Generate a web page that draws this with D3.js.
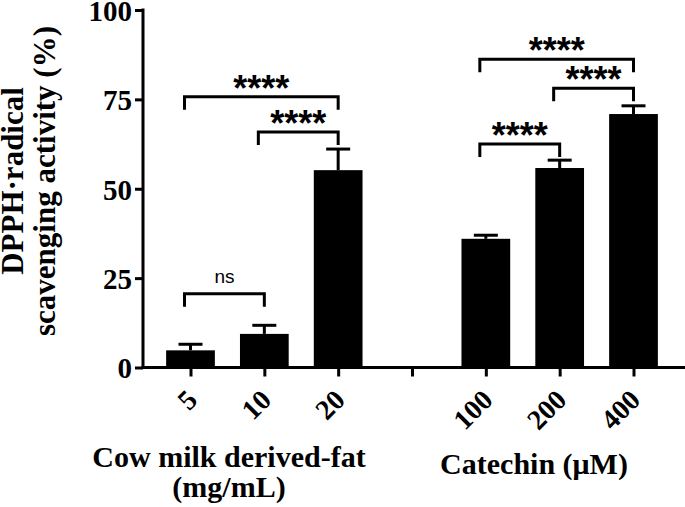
<!DOCTYPE html>
<html>
<head>
<meta charset="utf-8">
<script src="https://cdn.jsdelivr.net/npm/d3@7"></script>
<style>
  html, body { margin: 0; padding: 0; background: #fff; }
  svg { display: block; }
</style>
</head>
<body>
<svg id="chart" width="685" height="507"></svg>
<script>
// ---------- data ----------
const categories = ["5", "10", "20", "gap", "100", "200", "400"];
const tickLabels = ["5", "10", "20", "", "100", "200", "400"];

const cowDoses = ["5", "10", "20"];
const cowMeans = [4.8, 9.4, 55.2];
const cowErrors = [1.7, 2.4, 5.9];

const catechinDoses = ["100", "200", "400"];
const catechinMeans = [36.0, 55.8, 70.9];
const catechinErrors = [1.0, 2.2, 2.3];

const yTicks = [0, 25, 50, 75, 100];

const compFrom = ["5", "10", "5", "100", "200", "100"];
const compTo = ["10", "20", "20", "200", "400", "400"];
const compLevel = [20.6, 65.9, 75.7, 62.5, 78.1, 86.2];
const compLabel = ["ns", "****", "****", "****", "****", "****"];

const yTitleLines = ["DPPH\u00B7radical", "scavenging activity (%)"];
const groupTitles = [["Cow milk derived-fat", "(mg/mL)"], ["Catechin (\u03BCM)"]];

// ---------- layout ----------
const svg = d3.select("#chart");
const serif = "'Liberation Serif', 'Times New Roman', serif";
const sans = "'Liberation Sans', Arial, sans-serif";

const x = d3.scalePoint().domain(categories).range([190.5, 633.5]);
const y = d3.scaleLinear().domain([0, 100]).range([367.5, 10]);
const barW = x.step() * 0.66;

const bars = cowDoses.map((d, i) => ({ cat: d, mean: cowMeans[i], err: cowErrors[i] }))
  .concat(catechinDoses.map((d, i) => ({ cat: d, mean: catechinMeans[i], err: catechinErrors[i] })));

// bars
svg.append("g").selectAll("rect").data(bars).join("rect")
  .attr("x", d => x(d.cat) - barW / 2)
  .attr("width", barW)
  .attr("y", d => y(d.mean))
  .attr("height", d => y(0) - y(d.mean))
  .attr("fill", "#000");

// error bars
const eb = svg.append("g").attr("stroke", "#000").attr("stroke-width", 3);
eb.selectAll("line.v").data(bars).join("line").attr("class", "v")
  .attr("x1", d => x(d.cat)).attr("x2", d => x(d.cat))
  .attr("y1", d => y(d.mean)).attr("y2", d => y(d.mean + d.err));
eb.selectAll("line.c").data(bars).join("line").attr("class", "c")
  .attr("x1", d => x(d.cat) - 12).attr("x2", d => x(d.cat) + 12)
  .attr("y1", d => y(d.mean + d.err)).attr("y2", d => y(d.mean + d.err));

// y axis
const yAxis = svg.append("g")
  .attr("transform", `translate(${143},0)`)
  .call(d3.axisLeft(y).tickValues(yTicks).tickSize(8).tickSizeOuter(0).tickPadding(3));
yAxis.select(".domain").attr("stroke-width", 3).attr("d", `M0,${y(0) + 1.5}V${y(100) - 1.5}`);
yAxis.selectAll(".tick line").attr("stroke-width", 3);
yAxis.selectAll(".tick text")
  .attr("font-family", serif).attr("font-weight", "bold").attr("font-size", 29)
  .attr("dy", "0.36em").attr("fill", "#000");

// x axis
svg.append("line")
  .attr("x1", 141.5).attr("x2", 685).attr("y1", y(0)).attr("y2", y(0))
  .attr("stroke", "#000").attr("stroke-width", 3);
const xAxis = svg.append("g")
  .attr("transform", `translate(0,${y(0)})`)
  .call(d3.axisBottom(x).tickSize(9).tickSizeOuter(0).tickFormat((d, i) => tickLabels[i]));
xAxis.select(".domain").remove();
xAxis.selectAll(".tick line").attr("stroke-width", 3);
xAxis.selectAll(".tick text")
  .attr("font-family", serif).attr("font-weight", "bold").attr("font-size", 28)
  .attr("fill", "#000")
  .attr("text-anchor", "end")
  .attr("x", 0).attr("y", 0).attr("dy", 0)
  .attr("transform", "translate(8,34) rotate(-45)");

// significance brackets
const comps = compFrom.map((f, i) => ({ from: f, to: compTo[i], level: compLevel[i], label: compLabel[i] }));
const br = svg.append("g");
br.selectAll("path").data(comps).join("path")
  .attr("d", d => {
    const x1 = x(d.from) - 6, x2 = x(d.to), yy = y(d.level);
    return `M${x1},${yy + 13}V${yy}H${x2}V${yy + 13}`;
  })
  .attr("fill", "none").attr("stroke", "#000").attr("stroke-width", 3)
  .attr("stroke-linejoin", "miter");
br.selectAll("text").data(comps).join("text")
  .attr("x", d => (x(d.from) - 6 + x(d.to)) / 2)
  .attr("y", d => d.label === "ns" ? y(d.level) - 10.5 : y(d.level) + 4)
  .attr("text-anchor", "middle")
  .attr("font-family", sans)
  .attr("font-weight", d => d.label === "ns" ? "normal" : "bold")
  .attr("font-size", d => d.label === "ns" ? 19 : 36)
  .attr("fill", "#000")
  .text(d => d.label);

// y title
const yt = svg.append("text")
  .attr("transform", "translate(22.5,181) rotate(-90)")
  .attr("text-anchor", "middle")
  .attr("font-family", serif).attr("font-weight", "bold").attr("font-size", 31)
  .attr("fill", "#000");
yt.selectAll("tspan").data(yTitleLines).join("tspan")
  .attr("x", 0).attr("dy", (d, i) => i === 0 ? 0 : 32.5)
  .text(d => d);

// group titles
const groupCenters = [229, 534];
const groupBaselines = [466.5, 474];
groupTitles.forEach((lines, g) => {
  const t = svg.append("text")
    .attr("text-anchor", "middle")
    .attr("font-family", serif).attr("font-weight", "bold").attr("font-size", 30)
    .attr("fill", "#000");
  t.selectAll("tspan").data(lines).join("tspan")
    .attr("x", groupCenters[g])
    .attr("y", (d, i) => groupBaselines[g] + i * 30)
    .text(d => d);
});
</script>
</body>
</html>
